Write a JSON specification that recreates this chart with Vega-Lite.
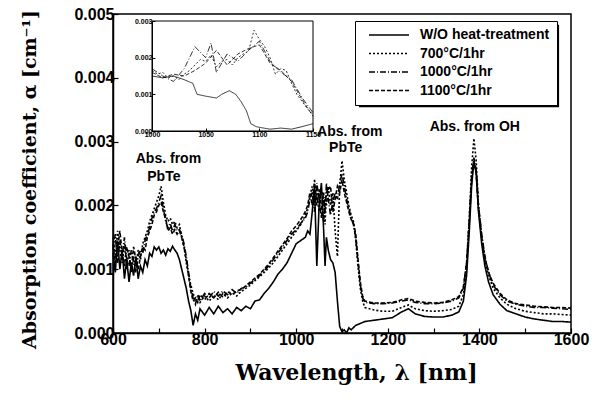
{
"$schema":"https://vega.github.io/schema/vega-lite/v6.json",
"width":458,"height":319,
"autosize":{"type":"none"},
"padding":{"left":113,"top":14,"right":30,"bottom":67},
"background":"white",
"config":{"view":{"stroke":"black","strokeWidth":1.5},"axis":{"grid":false,"domainColor":"black","tickColor":"black","labelColor":"black","titleColor":"black"}},
"datasets":{
"main":[
{"s":"W","x":600,"y":0.00125},{"s":"W","x":605,"y":0.00095},{"s":"W","x":610,"y":0.00145},{"s":"W","x":615,"y":0.001},{"s":"W","x":620,"y":0.0013},{"s":"W","x":625,"y":0.00085},{"s":"W","x":630,"y":0.00115},{"s":"W","x":635,"y":0.0008},{"s":"W","x":640,"y":0.0011},{"s":"W","x":645,"y":0.0009},{"s":"W","x":650,"y":0.0012},{"s":"W","x":655,"y":0.00085},{"s":"W","x":660,"y":0.00105},{"s":"W","x":665,"y":0.00095},{"s":"W","x":670,"y":0.00115},{"s":"W","x":675,"y":0.00105},{"s":"W","x":680,"y":0.00125},{"s":"W","x":685,"y":0.0012},{"s":"W","x":690,"y":0.00135},{"s":"W","x":695,"y":0.0013},{"s":"W","x":700,"y":0.00135},{"s":"W","x":705,"y":0.00125},{"s":"W","x":710,"y":0.0013},{"s":"W","x":715,"y":0.00122},{"s":"W","x":720,"y":0.00132},{"s":"W","x":725,"y":0.00128},{"s":"W","x":730,"y":0.00136},{"s":"W","x":735,"y":0.0013},{"s":"W","x":740,"y":0.00125},{"s":"W","x":745,"y":0.00115},{"s":"W","x":750,"y":0.001},{"s":"W","x":755,"y":0.00085},{"s":"W","x":760,"y":0.0007},{"s":"W","x":765,"y":0.0005},{"s":"W","x":770,"y":0.00035},{"s":"W","x":775,"y":0.00012},{"s":"W","x":780,"y":0.0003},{"s":"W","x":785,"y":0.0002},{"s":"W","x":790,"y":0.00038},{"s":"W","x":800,"y":0.00028},{"s":"W","x":810,"y":0.0004},{"s":"W","x":820,"y":0.0003},{"s":"W","x":830,"y":0.00042},{"s":"W","x":840,"y":0.00032},{"s":"W","x":850,"y":0.00038},{"s":"W","x":860,"y":0.0003},{"s":"W","x":870,"y":0.0004},{"s":"W","x":880,"y":0.00035},{"s":"W","x":890,"y":0.00042},{"s":"W","x":900,"y":0.00038},{"s":"W","x":910,"y":0.0005},{"s":"W","x":920,"y":0.00052},{"s":"W","x":930,"y":0.00062},{"s":"W","x":940,"y":0.0007},{"s":"W","x":950,"y":0.0008},{"s":"W","x":960,"y":0.00092},{"s":"W","x":970,"y":0.001},{"s":"W","x":980,"y":0.0011},{"s":"W","x":990,"y":0.00125},{"s":"W","x":1000,"y":0.0014},{"s":"W","x":1010,"y":0.00145},{"s":"W","x":1020,"y":0.0015},{"s":"W","x":1025,"y":0.0016},{"s":"W","x":1030,"y":0.00155},{"s":"W","x":1035,"y":0.0019},{"s":"W","x":1040,"y":0.0023},{"s":"W","x":1045,"y":0.00105},{"s":"W","x":1050,"y":0.002},{"s":"W","x":1055,"y":0.00235},{"s":"W","x":1060,"y":0.0016},{"s":"W","x":1063,"y":0.00105},{"s":"W","x":1066,"y":0.0015},{"s":"W","x":1070,"y":0.0013},{"s":"W","x":1075,"y":0.00115},{"s":"W","x":1080,"y":0.0011},{"s":"W","x":1085,"y":0.00095},{"s":"W","x":1090,"y":0.0005},{"s":"W","x":1095,"y":0.0001},{"s":"W","x":1100,"y":0.00002},{"s":"W","x":1105,"y":0.00005},{"s":"W","x":1110,"y":0.0},{"s":"W","x":1115,"y":0.00008},{"s":"W","x":1120,"y":0.00005},{"s":"W","x":1130,"y":0.00012},{"s":"W","x":1140,"y":0.00015},{"s":"W","x":1150,"y":0.00018},{"s":"W","x":1170,"y":0.0002},{"s":"W","x":1190,"y":0.00022},{"s":"W","x":1210,"y":0.00024},{"s":"W","x":1230,"y":0.00033},{"s":"W","x":1245,"y":0.00038},{"s":"W","x":1260,"y":0.0003},{"s":"W","x":1280,"y":0.00026},{"s":"W","x":1300,"y":0.00025},{"s":"W","x":1320,"y":0.00025},{"s":"W","x":1340,"y":0.00028},{"s":"W","x":1355,"y":0.00033},{"s":"W","x":1365,"y":0.0005},{"s":"W","x":1372,"y":0.0009},{"s":"W","x":1378,"y":0.0016},{"s":"W","x":1383,"y":0.0023},{"s":"W","x":1388,"y":0.0027},{"s":"W","x":1393,"y":0.0025},{"s":"W","x":1398,"y":0.0019},{"s":"W","x":1405,"y":0.0014},{"s":"W","x":1412,"y":0.00105},{"s":"W","x":1420,"y":0.0008},{"s":"W","x":1430,"y":0.0006},{"s":"W","x":1445,"y":0.00045},{"s":"W","x":1460,"y":0.00035},{"s":"W","x":1480,"y":0.0003},{"s":"W","x":1500,"y":0.00025},{"s":"W","x":1520,"y":0.00022},{"s":"W","x":1540,"y":0.0002},{"s":"W","x":1560,"y":0.00018},{"s":"W","x":1580,"y":0.00018},{"s":"W","x":1600,"y":0.00017},
{"s":"700","x":600,"y":0.0015},{"s":"700","x":605,"y":0.0012},{"s":"700","x":610,"y":0.0016},{"s":"700","x":615,"y":0.0013},{"s":"700","x":620,"y":0.0011},{"s":"700","x":625,"y":0.0014},{"s":"700","x":630,"y":0.001},{"s":"700","x":635,"y":0.0013},{"s":"700","x":640,"y":0.00095},{"s":"700","x":645,"y":0.0012},{"s":"700","x":650,"y":0.00105},{"s":"700","x":655,"y":0.0013},{"s":"700","x":660,"y":0.00115},{"s":"700","x":665,"y":0.0014},{"s":"700","x":670,"y":0.0015},{"s":"700","x":675,"y":0.0016},{"s":"700","x":680,"y":0.00175},{"s":"700","x":685,"y":0.00185},{"s":"700","x":690,"y":0.00195},{"s":"700","x":695,"y":0.00205},{"s":"700","x":700,"y":0.00215},{"s":"700","x":705,"y":0.0023},{"s":"700","x":710,"y":0.00205},{"s":"700","x":715,"y":0.00185},{"s":"700","x":720,"y":0.00175},{"s":"700","x":725,"y":0.0018},{"s":"700","x":730,"y":0.0017},{"s":"700","x":735,"y":0.00175},{"s":"700","x":740,"y":0.00165},{"s":"700","x":745,"y":0.0017},{"s":"700","x":750,"y":0.0015},{"s":"700","x":755,"y":0.00135},{"s":"700","x":760,"y":0.0011},{"s":"700","x":765,"y":0.0009},{"s":"700","x":770,"y":0.00075},{"s":"700","x":775,"y":0.00062},{"s":"700","x":780,"y":0.0005},{"s":"700","x":785,"y":0.00055},{"s":"700","x":790,"y":0.00048},{"s":"700","x":800,"y":0.00058},{"s":"700","x":810,"y":0.0005},{"s":"700","x":820,"y":0.0006},{"s":"700","x":830,"y":0.00052},{"s":"700","x":840,"y":0.00062},{"s":"700","x":850,"y":0.00055},{"s":"700","x":860,"y":0.00063},{"s":"700","x":870,"y":0.00058},{"s":"700","x":880,"y":0.00065},{"s":"700","x":890,"y":0.0007},{"s":"700","x":900,"y":0.00075},{"s":"700","x":910,"y":0.00082},{"s":"700","x":920,"y":0.00088},{"s":"700","x":930,"y":0.00095},{"s":"700","x":940,"y":0.00102},{"s":"700","x":950,"y":0.0011},{"s":"700","x":960,"y":0.0012},{"s":"700","x":970,"y":0.0013},{"s":"700","x":980,"y":0.0014},{"s":"700","x":990,"y":0.0015},{"s":"700","x":1000,"y":0.0016},{"s":"700","x":1010,"y":0.0017},{"s":"700","x":1020,"y":0.00185},{"s":"700","x":1025,"y":0.00195},{"s":"700","x":1030,"y":0.00215},{"s":"700","x":1035,"y":0.0023},{"s":"700","x":1040,"y":0.00205},{"s":"700","x":1045,"y":0.0022},{"s":"700","x":1050,"y":0.0019},{"s":"700","x":1055,"y":0.00225},{"s":"700","x":1060,"y":0.0021},{"s":"700","x":1063,"y":0.0017},{"s":"700","x":1066,"y":0.0022},{"s":"700","x":1070,"y":0.0023},{"s":"700","x":1075,"y":0.002},{"s":"700","x":1080,"y":0.0022},{"s":"700","x":1085,"y":0.0016},{"s":"700","x":1090,"y":0.0012},{"s":"700","x":1095,"y":0.0023},{"s":"700","x":1100,"y":0.0027},{"s":"700","x":1105,"y":0.0024},{"s":"700","x":1110,"y":0.0022},{"s":"700","x":1115,"y":0.002},{"s":"700","x":1120,"y":0.00185},{"s":"700","x":1125,"y":0.00175},{"s":"700","x":1130,"y":0.00145},{"s":"700","x":1135,"y":0.00105},{"s":"700","x":1140,"y":0.0007},{"s":"700","x":1145,"y":0.0005},{"s":"700","x":1150,"y":0.0004},{"s":"700","x":1170,"y":0.00036},{"s":"700","x":1190,"y":0.00034},{"s":"700","x":1210,"y":0.00034},{"s":"700","x":1230,"y":0.0004},{"s":"700","x":1245,"y":0.00044},{"s":"700","x":1260,"y":0.00038},{"s":"700","x":1280,"y":0.00035},{"s":"700","x":1300,"y":0.00034},{"s":"700","x":1320,"y":0.00035},{"s":"700","x":1340,"y":0.00037},{"s":"700","x":1355,"y":0.00042},{"s":"700","x":1365,"y":0.0006},{"s":"700","x":1372,"y":0.001},{"s":"700","x":1378,"y":0.0018},{"s":"700","x":1383,"y":0.0026},{"s":"700","x":1388,"y":0.00305},{"s":"700","x":1393,"y":0.0027},{"s":"700","x":1398,"y":0.002},{"s":"700","x":1405,"y":0.0015},{"s":"700","x":1412,"y":0.00115},{"s":"700","x":1420,"y":0.0009},{"s":"700","x":1430,"y":0.0007},{"s":"700","x":1445,"y":0.00055},{"s":"700","x":1460,"y":0.00045},{"s":"700","x":1480,"y":0.00038},{"s":"700","x":1500,"y":0.00034},{"s":"700","x":1520,"y":0.00032},{"s":"700","x":1540,"y":0.0003},{"s":"700","x":1560,"y":0.0003},{"s":"700","x":1580,"y":0.00029},{"s":"700","x":1600,"y":0.00028},
{"s":"1000","x":600,"y":0.0013},{"s":"1000","x":605,"y":0.00155},{"s":"1000","x":610,"y":0.0011},{"s":"1000","x":615,"y":0.00145},{"s":"1000","x":620,"y":0.0012},{"s":"1000","x":625,"y":0.0015},{"s":"1000","x":630,"y":0.00115},{"s":"1000","x":635,"y":0.00105},{"s":"1000","x":640,"y":0.0013},{"s":"1000","x":645,"y":0.0011},{"s":"1000","x":650,"y":0.00095},{"s":"1000","x":655,"y":0.0012},{"s":"1000","x":660,"y":0.0013},{"s":"1000","x":665,"y":0.00125},{"s":"1000","x":670,"y":0.00145},{"s":"1000","x":675,"y":0.00155},{"s":"1000","x":680,"y":0.00165},{"s":"1000","x":685,"y":0.0018},{"s":"1000","x":690,"y":0.0019},{"s":"1000","x":695,"y":0.00195},{"s":"1000","x":700,"y":0.00205},{"s":"1000","x":705,"y":0.00215},{"s":"1000","x":710,"y":0.00195},{"s":"1000","x":715,"y":0.00175},{"s":"1000","x":720,"y":0.00165},{"s":"1000","x":725,"y":0.00172},{"s":"1000","x":730,"y":0.0016},{"s":"1000","x":735,"y":0.0017},{"s":"1000","x":740,"y":0.0016},{"s":"1000","x":745,"y":0.00162},{"s":"1000","x":750,"y":0.00155},{"s":"1000","x":755,"y":0.0014},{"s":"1000","x":760,"y":0.0012},{"s":"1000","x":765,"y":0.00095},{"s":"1000","x":770,"y":0.0007},{"s":"1000","x":775,"y":0.00055},{"s":"1000","x":780,"y":0.00045},{"s":"1000","x":785,"y":0.0006},{"s":"1000","x":790,"y":0.0005},{"s":"1000","x":800,"y":0.00062},{"s":"1000","x":810,"y":0.00055},{"s":"1000","x":820,"y":0.00065},{"s":"1000","x":830,"y":0.00058},{"s":"1000","x":840,"y":0.00066},{"s":"1000","x":850,"y":0.0006},{"s":"1000","x":860,"y":0.00068},{"s":"1000","x":870,"y":0.00062},{"s":"1000","x":880,"y":0.0007},{"s":"1000","x":890,"y":0.00072},{"s":"1000","x":900,"y":0.00078},{"s":"1000","x":910,"y":0.00084},{"s":"1000","x":920,"y":0.0009},{"s":"1000","x":930,"y":0.00098},{"s":"1000","x":940,"y":0.00105},{"s":"1000","x":950,"y":0.00115},{"s":"1000","x":960,"y":0.00125},{"s":"1000","x":970,"y":0.00135},{"s":"1000","x":980,"y":0.00145},{"s":"1000","x":990,"y":0.00155},{"s":"1000","x":1000,"y":0.00162},{"s":"1000","x":1010,"y":0.00172},{"s":"1000","x":1020,"y":0.0018},{"s":"1000","x":1025,"y":0.0019},{"s":"1000","x":1030,"y":0.0021},{"s":"1000","x":1035,"y":0.0022},{"s":"1000","x":1040,"y":0.0019},{"s":"1000","x":1045,"y":0.00235},{"s":"1000","x":1050,"y":0.0021},{"s":"1000","x":1055,"y":0.0018},{"s":"1000","x":1060,"y":0.0022},{"s":"1000","x":1063,"y":0.0019},{"s":"1000","x":1066,"y":0.00235},{"s":"1000","x":1070,"y":0.0021},{"s":"1000","x":1075,"y":0.00185},{"s":"1000","x":1080,"y":0.00205},{"s":"1000","x":1085,"y":0.0022},{"s":"1000","x":1090,"y":0.0021},{"s":"1000","x":1095,"y":0.00235},{"s":"1000","x":1100,"y":0.0025},{"s":"1000","x":1105,"y":0.0023},{"s":"1000","x":1110,"y":0.0021},{"s":"1000","x":1115,"y":0.00195},{"s":"1000","x":1120,"y":0.0018},{"s":"1000","x":1125,"y":0.0017},{"s":"1000","x":1130,"y":0.0015},{"s":"1000","x":1135,"y":0.0011},{"s":"1000","x":1140,"y":0.00075},{"s":"1000","x":1145,"y":0.00055},{"s":"1000","x":1150,"y":0.00048},{"s":"1000","x":1170,"y":0.00046},{"s":"1000","x":1190,"y":0.00046},{"s":"1000","x":1210,"y":0.00047},{"s":"1000","x":1230,"y":0.0005},{"s":"1000","x":1245,"y":0.00052},{"s":"1000","x":1260,"y":0.00048},{"s":"1000","x":1280,"y":0.00046},{"s":"1000","x":1300,"y":0.00046},{"s":"1000","x":1320,"y":0.00047},{"s":"1000","x":1340,"y":0.0005},{"s":"1000","x":1355,"y":0.00055},{"s":"1000","x":1365,"y":0.0007},{"s":"1000","x":1372,"y":0.0011},{"s":"1000","x":1378,"y":0.0018},{"s":"1000","x":1383,"y":0.00245},{"s":"1000","x":1388,"y":0.00275},{"s":"1000","x":1393,"y":0.00255},{"s":"1000","x":1398,"y":0.002},{"s":"1000","x":1405,"y":0.00155},{"s":"1000","x":1412,"y":0.0012},{"s":"1000","x":1420,"y":0.00095},{"s":"1000","x":1430,"y":0.00075},{"s":"1000","x":1445,"y":0.0006},{"s":"1000","x":1460,"y":0.0005},{"s":"1000","x":1480,"y":0.00045},{"s":"1000","x":1500,"y":0.00042},{"s":"1000","x":1520,"y":0.0004},{"s":"1000","x":1540,"y":0.0004},{"s":"1000","x":1560,"y":0.00039},{"s":"1000","x":1580,"y":0.00038},{"s":"1000","x":1600,"y":0.00037},
{"s":"1100","x":600,"y":0.0014},{"s":"1100","x":605,"y":0.0011},{"s":"1100","x":610,"y":0.00135},{"s":"1100","x":615,"y":0.0016},{"s":"1100","x":620,"y":0.00125},{"s":"1100","x":625,"y":0.00105},{"s":"1100","x":630,"y":0.00135},{"s":"1100","x":635,"y":0.0012},{"s":"1100","x":640,"y":0.001},{"s":"1100","x":645,"y":0.00135},{"s":"1100","x":650,"y":0.00115},{"s":"1100","x":655,"y":0.001},{"s":"1100","x":660,"y":0.0012},{"s":"1100","x":665,"y":0.00135},{"s":"1100","x":670,"y":0.0013},{"s":"1100","x":675,"y":0.0015},{"s":"1100","x":680,"y":0.0016},{"s":"1100","x":685,"y":0.0017},{"s":"1100","x":690,"y":0.00185},{"s":"1100","x":695,"y":0.0019},{"s":"1100","x":700,"y":0.002},{"s":"1100","x":705,"y":0.00205},{"s":"1100","x":710,"y":0.0019},{"s":"1100","x":715,"y":0.0018},{"s":"1100","x":720,"y":0.0016},{"s":"1100","x":725,"y":0.00165},{"s":"1100","x":730,"y":0.00155},{"s":"1100","x":735,"y":0.00162},{"s":"1100","x":740,"y":0.00155},{"s":"1100","x":745,"y":0.0016},{"s":"1100","x":750,"y":0.0015},{"s":"1100","x":755,"y":0.00135},{"s":"1100","x":760,"y":0.00115},{"s":"1100","x":765,"y":0.0009},{"s":"1100","x":770,"y":0.00065},{"s":"1100","x":775,"y":0.0005},{"s":"1100","x":780,"y":0.00055},{"s":"1100","x":785,"y":0.00048},{"s":"1100","x":790,"y":0.0006},{"s":"1100","x":800,"y":0.00052},{"s":"1100","x":810,"y":0.00062},{"s":"1100","x":820,"y":0.00055},{"s":"1100","x":830,"y":0.00064},{"s":"1100","x":840,"y":0.00056},{"s":"1100","x":850,"y":0.00065},{"s":"1100","x":860,"y":0.0006},{"s":"1100","x":870,"y":0.00066},{"s":"1100","x":880,"y":0.00068},{"s":"1100","x":890,"y":0.00074},{"s":"1100","x":900,"y":0.0008},{"s":"1100","x":910,"y":0.00086},{"s":"1100","x":920,"y":0.00092},{"s":"1100","x":930,"y":0.001},{"s":"1100","x":940,"y":0.00108},{"s":"1100","x":950,"y":0.00118},{"s":"1100","x":960,"y":0.00128},{"s":"1100","x":970,"y":0.00138},{"s":"1100","x":980,"y":0.00148},{"s":"1100","x":990,"y":0.0016},{"s":"1100","x":1000,"y":0.00168},{"s":"1100","x":1010,"y":0.00178},{"s":"1100","x":1020,"y":0.0019},{"s":"1100","x":1025,"y":0.002},{"s":"1100","x":1030,"y":0.0022},{"s":"1100","x":1035,"y":0.002},{"s":"1100","x":1040,"y":0.0024},{"s":"1100","x":1045,"y":0.002},{"s":"1100","x":1050,"y":0.00225},{"s":"1100","x":1055,"y":0.002},{"s":"1100","x":1060,"y":0.00175},{"s":"1100","x":1063,"y":0.0021},{"s":"1100","x":1066,"y":0.002},{"s":"1100","x":1070,"y":0.00225},{"s":"1100","x":1075,"y":0.0023},{"s":"1100","x":1080,"y":0.0019},{"s":"1100","x":1085,"y":0.0021},{"s":"1100","x":1090,"y":0.0023},{"s":"1100","x":1095,"y":0.0022},{"s":"1100","x":1100,"y":0.0024},{"s":"1100","x":1105,"y":0.0022},{"s":"1100","x":1110,"y":0.00205},{"s":"1100","x":1115,"y":0.0019},{"s":"1100","x":1120,"y":0.00178},{"s":"1100","x":1125,"y":0.00172},{"s":"1100","x":1130,"y":0.00155},{"s":"1100","x":1135,"y":0.00115},{"s":"1100","x":1140,"y":0.0008},{"s":"1100","x":1145,"y":0.00058},{"s":"1100","x":1150,"y":0.0005},{"s":"1100","x":1170,"y":0.00047},{"s":"1100","x":1190,"y":0.00047},{"s":"1100","x":1210,"y":0.00048},{"s":"1100","x":1230,"y":0.00052},{"s":"1100","x":1245,"y":0.00054},{"s":"1100","x":1260,"y":0.0005},{"s":"1100","x":1280,"y":0.00048},{"s":"1100","x":1300,"y":0.00047},{"s":"1100","x":1320,"y":0.00048},{"s":"1100","x":1340,"y":0.00052},{"s":"1100","x":1355,"y":0.00057},{"s":"1100","x":1365,"y":0.00072},{"s":"1100","x":1372,"y":0.0011},{"s":"1100","x":1378,"y":0.00175},{"s":"1100","x":1383,"y":0.0024},{"s":"1100","x":1388,"y":0.0027},{"s":"1100","x":1393,"y":0.0025},{"s":"1100","x":1398,"y":0.00195},{"s":"1100","x":1405,"y":0.0015},{"s":"1100","x":1412,"y":0.00118},{"s":"1100","x":1420,"y":0.00095},{"s":"1100","x":1430,"y":0.00078},{"s":"1100","x":1445,"y":0.00062},{"s":"1100","x":1460,"y":0.00052},{"s":"1100","x":1480,"y":0.00046},{"s":"1100","x":1500,"y":0.00044},{"s":"1100","x":1520,"y":0.00042},{"s":"1100","x":1540,"y":0.00041},{"s":"1100","x":1560,"y":0.0004},{"s":"1100","x":1580,"y":0.0004},{"s":"1100","x":1600,"y":0.00039}
],
"inset":[
{"s":"W","x":1000,"y":0.0015},{"s":"W","x":1010,"y":0.00145},{"s":"W","x":1020,"y":0.0015},{"s":"W","x":1030,"y":0.0014},{"s":"W","x":1038,"y":0.0013},{"s":"W","x":1042,"y":0.001},{"s":"W","x":1050,"y":0.00095},{"s":"W","x":1060,"y":0.0009},{"s":"W","x":1065,"y":0.001},{"s":"W","x":1072,"y":0.0011},{"s":"W","x":1078,"y":0.001},{"s":"W","x":1083,"y":0.0008},{"s":"W","x":1088,"y":0.00055},{"s":"W","x":1092,"y":0.0002},{"s":"W","x":1097,"y":0.00012},{"s":"W","x":1100,"y":0.0001},{"s":"W","x":1110,"y":0.00005},{"s":"W","x":1120,"y":0.00008},{"s":"W","x":1130,"y":0.00005},{"s":"W","x":1140,"y":0.00012},{"s":"W","x":1150,"y":0.0002},
{"s":"700","x":1000,"y":0.00165},{"s":"700","x":1005,"y":0.00155},{"s":"700","x":1010,"y":0.0016},{"s":"700","x":1015,"y":0.00145},{"s":"700","x":1020,"y":0.0015},{"s":"700","x":1025,"y":0.0014},{"s":"700","x":1030,"y":0.00155},{"s":"700","x":1035,"y":0.00165},{"s":"700","x":1040,"y":0.0018},{"s":"700","x":1045,"y":0.00195},{"s":"700","x":1050,"y":0.0019},{"s":"700","x":1055,"y":0.00207},{"s":"700","x":1060,"y":0.00175},{"s":"700","x":1065,"y":0.0019},{"s":"700","x":1070,"y":0.00195},{"s":"700","x":1075,"y":0.0018},{"s":"700","x":1080,"y":0.002},{"s":"700","x":1085,"y":0.0021},{"s":"700","x":1090,"y":0.00218},{"s":"700","x":1095,"y":0.00275},{"s":"700","x":1100,"y":0.0025},{"s":"700","x":1105,"y":0.0023},{"s":"700","x":1110,"y":0.002},{"s":"700","x":1115,"y":0.00155},{"s":"700","x":1120,"y":0.0017},{"s":"700","x":1125,"y":0.00165},{"s":"700","x":1130,"y":0.0013},{"s":"700","x":1135,"y":0.001},{"s":"700","x":1140,"y":0.0008},{"s":"700","x":1145,"y":0.0006},{"s":"700","x":1150,"y":0.00045},
{"s":"1000","x":1000,"y":0.0017},{"s":"1000","x":1010,"y":0.0015},{"s":"1000","x":1020,"y":0.00135},{"s":"1000","x":1030,"y":0.0017},{"s":"1000","x":1040,"y":0.0023},{"s":"1000","x":1050,"y":0.002},{"s":"1000","x":1055,"y":0.0024},{"s":"1000","x":1060,"y":0.0016},{"s":"1000","x":1070,"y":0.0021},{"s":"1000","x":1080,"y":0.0019},{"s":"1000","x":1090,"y":0.0022},{"s":"1000","x":1100,"y":0.00245},{"s":"1000","x":1110,"y":0.0019},{"s":"1000","x":1120,"y":0.0016},{"s":"1000","x":1130,"y":0.0014},{"s":"1000","x":1140,"y":0.0009},{"s":"1000","x":1150,"y":0.0005},
{"s":"1100","x":1000,"y":0.0016},{"s":"1100","x":1010,"y":0.00145},{"s":"1100","x":1020,"y":0.00155},{"s":"1100","x":1030,"y":0.0015},{"s":"1100","x":1040,"y":0.00165},{"s":"1100","x":1050,"y":0.00185},{"s":"1100","x":1060,"y":0.0022},{"s":"1100","x":1070,"y":0.0018},{"s":"1100","x":1080,"y":0.0021},{"s":"1100","x":1090,"y":0.00225},{"s":"1100","x":1100,"y":0.00235},{"s":"1100","x":1110,"y":0.00185},{"s":"1100","x":1120,"y":0.00165},{"s":"1100","x":1130,"y":0.00135},{"s":"1100","x":1140,"y":0.00085},{"s":"1100","x":1150,"y":0.0004}
],
"notes":[
{"t":"Abs. from","x":721,"y":0.00273},{"t":"PbTe","x":711,"y":0.00245},{"t":"Abs. from","x":1117,"y":0.00315},{"t":"PbTe","x":1108,"y":0.0029},{"t":"Abs. from OH","x":1390,"y":0.00323}
]
},
"layer":[
{"layer":[
{"data":{"name":"main"},"mark":{"type":"line","strokeWidth":1.6,"color":"black"},
"encoding":{
"x":{"field":"x","type":"quantitative","scale":{"domain":[600,1600],"nice":false,"zero":false},
"axis":{"values":[600,700,800,900,1000,1100,1200,1300,1400,1500,1600],"format":"d","labelExpr":"datum.value % 200 == 0 ? datum.label : ''","title":"Wavelength, λ [nm]","titleFont":"DejaVu Serif","titleFontSize":22,"titleFontWeight":"bold","titlePadding":15,"titleX":243,"labelFont":"Liberation Sans","labelFontSize":16,"labelFontWeight":"bold","labelPadding":3,"tickSize":-5,"tickWidth":1.2,"domainWidth":1.5,"labelFlush":false,"labelOverlap":false,"zindex":1}},
"y":{"field":"y","type":"quantitative","scale":{"domain":[0,0.005],"nice":false,"zero":false},
"axis":{"values":[0,0.0005,0.001,0.0015,0.002,0.0025,0.003,0.0035,0.004,0.0045,0.005],"labelExpr":"round(datum.value*10000) % 10 == 0 ? format(datum.value, '.3f') : ''","title":"Absorption coefficient, α [cm⁻¹]","titleFont":"DejaVu Serif","titleFontSize":19,"titleFontWeight":"bold","titlePadding":34,"titleY":165,"labelFont":"Liberation Sans","labelFontSize":16,"labelFontWeight":"bold","labelPadding":4,"tickSize":-5,"tickWidth":1.2,"domainWidth":1.5,"labelFlush":false,"labelOverlap":false,"zindex":1}},
"strokeDash":{"field":"s","type":"nominal","scale":{"domain":["W","700","1000","1100"],"range":[[1,0],[2,2],[6,2,1,2],[4,2]]},
"legend":{"title":null,"orient":"none","legendX":242,"legendY":7,"fillColor":"white","strokeColor":"black","padding":7,"symbolType":"M0,0H8","symbolSize":100,"symbolFillColor":"transparent","symbolStrokeWidth":1.3,"symbolStrokeColor":"black","labelFont":"Liberation Sans","labelFontWeight":"bold","labelFontSize":14,"labelColor":"black","labelOffset":44,"rowPadding":4.5,"labelLimit":300,"labelExpr":"datum.value == 'W' ? 'W/O heat-treatment' : datum.value + '°C/1hr'"}}}},
{"data":{"name":"notes"},"mark":{"type":"text","font":"Liberation Sans","fontWeight":"bold","fontSize":14,"color":"black"},
"encoding":{"x":{"field":"x","type":"quantitative"},"y":{"field":"y","type":"quantitative"},"text":{"field":"t"}}},
{"data":{"values":[{}]},"mark":{"type":"rect","color":"black"},
"encoding":{"x":{"datum":1137},"x2":{"datum":1574},"y":{"datum":0.00354},"y2":{"datum":0.00483}}}
]},
{"layer":[
{"data":{"values":[{}]},"mark":{"type":"rect","fill":"white","stroke":"black","strokeWidth":1},
"encoding":{
"x":{"datum":1000,"type":"quantitative","scale":{"domain":[1000,1150],"range":[39,200],"nice":false,"zero":false},
"axis":{"orient":"bottom","offset":-202,"values":[1000,1050,1100,1150],"format":"d","title":null,"labelFont":"Liberation Sans","labelFontSize":7,"labelFontWeight":"bold","labelPadding":2,"tickSize":-3,"domainWidth":1,"labelFlush":false,"zindex":1}},
"x2":{"datum":1150},
"y":{"datum":0,"type":"quantitative","scale":{"domain":[0,0.003],"range":[117,7],"nice":false,"zero":false},
"axis":{"orient":"left","offset":-39,"values":[0,0.001,0.002,0.003],"format":".3f","title":null,"labelFont":"Liberation Sans","labelFontSize":7,"labelFontWeight":"bold","labelPadding":3,"tickSize":-3,"domainWidth":1,"labelFlush":false,"zindex":1}},
"y2":{"datum":0.003}}},
{"data":{"name":"inset"},"mark":{"type":"line","strokeWidth":0.8,"color":"black"},
"encoding":{"x":{"field":"x","type":"quantitative","axis":{"title":null}},"y":{"field":"y","type":"quantitative","axis":{"title":null}},"strokeDash":{"field":"s","type":"nominal"}}}
]}
],
"resolve":{"scale":{"x":"independent","y":"independent"}}
}
